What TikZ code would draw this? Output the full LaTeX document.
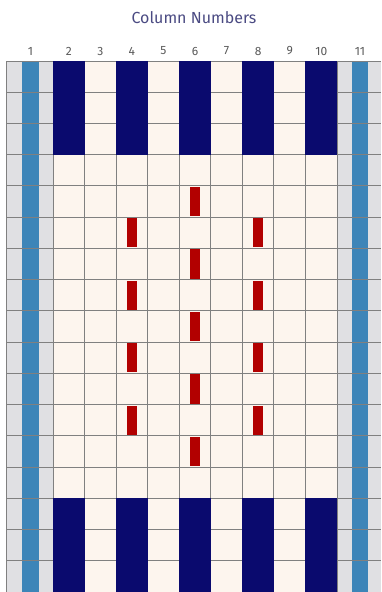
\documentclass[tikz,border=0pt]{standalone}
\usepackage{fontspec}
\setmainfont{Fira Sans}
\usetikzlibrary{positioning}

\definecolor{cellbg}{HTML}{FDF5EE}
\definecolor{sidegray}{HTML}{E0E0E3}
\definecolor{stripeblue}{HTML}{3D85B8}
\definecolor{warpnavy}{HTML}{0A0A6E}
\definecolor{dashred}{HTML}{B20000}
\definecolor{linegray}{HTML}{808080}
\definecolor{headblue}{HTML}{4A4A82}

\begin{document}
\begin{tikzpicture}[
  x=1pt, y=-1pt,
  heading/.style={font=\fontsize{16}{18}\selectfont, text=headblue, inner sep=0pt},
  colnum/.style={font=\fontsize{12}{14}\selectfont, text=black!65, inner sep=0pt},
  gridline/.style={draw=linegray, line width=1pt},
  navybar/.style={fill=warpnavy},
  redbar/.style={fill=dashred},
]
  \useasboundingbox (0,0) rectangle (381,592);
  \def\gtop{61}
  \def\rowh{31.24}
  \def\colw{31.56}

  % background of the grid
  \fill[cellbg] (6,\gtop) rectangle (381,592);
  \fill[sidegray] (6,\gtop) rectangle (53,592);
  \fill[sidegray] (337,\gtop) rectangle (381,592);
  \fill[stripeblue] (22,\gtop) rectangle (39,592);
  \fill[stripeblue] (352,\gtop) rectangle (368,592);

  % grid lines
  \foreach \r in {0,...,17}
    \draw[gridline] (6,\gtop+\r*\rowh) -- (381,\gtop+\r*\rowh);
  \draw[gridline] (6,\gtop) -- (6,592);
  \foreach \c in {0,...,9}
    \draw[gridline] (53+\c*\colw,\gtop) -- (53+\c*\colw,592);

  % navy blocks, top and bottom
  \foreach \c in {2,4,6,8,10} {
    \fill[navybar] (53+\c*\colw-2*\colw,\gtop) rectangle ++(\colw,3*\rowh);
    \fill[navybar] (53+\c*\colw-2*\colw,\gtop+14*\rowh) rectangle ++(\colw,3*\rowh);
  }

  % red dashes
  \foreach \r in {5,7,9,11,13}
    \fill[redbar] (53+4.5*\colw-5,\gtop+\r*\rowh-\rowh+1) rectangle ++(10,\rowh-2);
  \foreach \c in {4,8}
    \foreach \r in {6,8,10,12}
      \fill[redbar] (53+\c*\colw-1.5*\colw-5,\gtop+\r*\rowh-\rowh+1) rectangle ++(10,\rowh-2);

  % labels
  \node[heading] (title) at (194,18) {Column Numbers};
  \node[colnum] (n1) at (30.5,51) {1};
  \foreach \c in {2,...,10}
    \node[colnum] (n\c) at (53+\c*\colw-1.5*\colw,51) {\c};
  \node[colnum] (n11) at (360,51) {11};
\end{tikzpicture}
\end{document}
